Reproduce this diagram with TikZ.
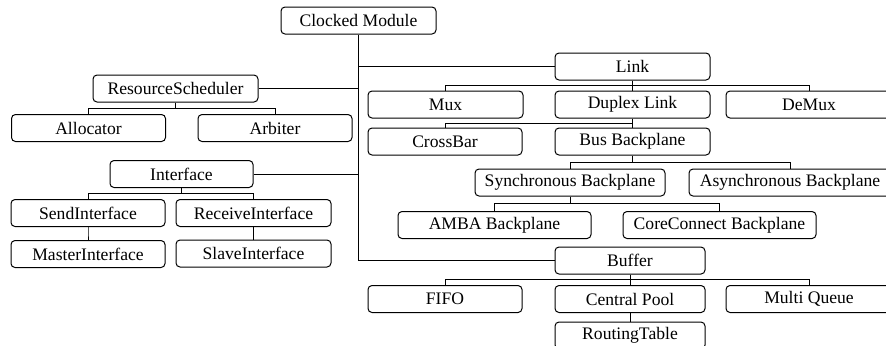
\documentclass[tikz,border=0pt]{standalone}
\usepackage{fontspec}
\setmainfont{LiberationSerif}[Extension=.ttf, UprightFont=*-Regular]
\usepackage{tikz}
\usetikzlibrary{positioning,calc}
\tikzset{
    block/.style = {
        draw,
        shape=rectangle,
        rounded corners=2pt,
        minimum height=13.5pt,
        inner sep=0pt,
        line width=0.5pt,
        font=\rmfamily\fontsize{8.8}{10}\selectfont
    },
    link/.style = {
        draw,
        line width=0.5pt
    },
}

\begin{document}
\begin{tikzpicture}[x=0.5pt,y=-0.5pt]
    \useasboundingbox (0,0) rectangle (886,345);

    \node[block, minimum width=77.5pt] (cm) at (358.5,20.5) {Clocked Module};

    % left side
    \node[block, minimum width=82.5pt] (rs) at (175.5,88.5) {ResourceScheduler};
    \node[block, minimum width=77pt] (alloc) at (88.5,128) {Allocator};
    \node[block, minimum width=77pt] (arb) at (275,128) {Arbiter};
    \node[block, minimum width=71.5pt] (iface) at (181.5,174) {Interface};
    \node[block, minimum width=77pt] (send) at (88,213) {SendInterface};
    \node[block, minimum width=77.5pt] (recv) at (253.5,213) {ReceiveInterface};
    \node[block, minimum width=77pt] (master) at (88,254) {MasterInterface};
    \node[block, minimum width=77.5pt] (slave) at (253.5,253.5) {SlaveInterface};

    % right side
    \node[block, minimum width=77.5pt] (link) at (632.5,66.5) {Link};
    \node[block, minimum width=77.5pt] (mux) at (445.5,104.5) {Mux};
    \node[block, minimum width=77.5pt] (duplex) at (632.5,104.5) {Duplex Link};
    \node[block, minimum width=83pt] (demux) at (809,104.5) {DeMux};
    \node[block, minimum width=77pt] (xbar) at (445,141.5) {CrossBar};
    \node[block, minimum width=77.5pt] (bus) at (632.5,141.5) {Bus Backplane};
    \node[block, minimum width=95pt] (sync) at (570,182.5) {Synchronous Backplane};
    \node[block, minimum width=101pt] (async) at (790,182.5) {Asynchronous Backplane};
    \node[block, minimum width=96.5pt] (amba) at (494.5,225) {AMBA Backplane};
    \node[block, minimum width=96.5pt] (core) at (719.5,225) {CoreConnect Backplane};
    \node[block, minimum width=75pt] (buf) at (630,260.5) {Buffer};
    \node[block, minimum width=77pt] (fifo) at (445,299) {FIFO};
    \node[block, minimum width=75pt] (pool) at (630,299) {Central Pool};
    \node[block, minimum width=83pt] (mq) at (809,299) {Multi Queue};
    \node[block, minimum width=75pt] (rt) at (630,335.5) {RoutingTable};

    % trunk
    \path[link] (cm.south) |- (buf.west);
    \path[link] (link.west) -- (link.west -| cm.south);
    \path[link] (rs.east) -- (rs.east -| cm.south);
    \path[link] (iface.east) -- (iface.east -| cm.south);

    % branches
    \foreach \p/\c in {rs/alloc, rs/arb, iface/send, iface/recv, send/master,
        recv/slave, link/mux, link/duplex, link/demux, duplex/xbar, duplex/bus,
        bus/sync, bus/async, sync/amba, sync/core, buf/fifo, buf/pool,
        buf/mq, pool/rt}
        \path[link] (\p.south) -- ($(\p.south)!.5!(\p.south |- \c.north)$) -| (\c.north);
\end{tikzpicture}
\end{document}
